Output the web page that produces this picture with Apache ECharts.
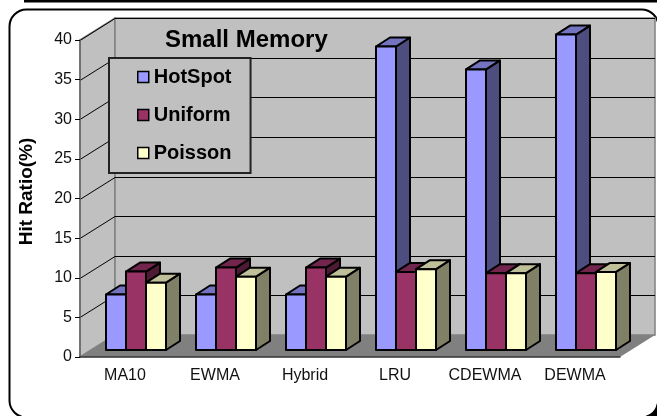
<!DOCTYPE html>
<html>
<head>
<meta charset="utf-8">
<style>
  html, body { margin: 0; padding: 0; background: #fff; }
  #chart { width: 657px; height: 416px; }
</style>
<script src="https://cdn.jsdelivr.net/npm/echarts@6/dist/echarts.min.js"></script>
</head>
<body>
<div id="chart"></div>
<script>
var categories = ['MA10', 'EWMA', 'Hybrid', 'LRU', 'CDEWMA', 'DEWMA']
var hotSpot = [7.0, 7.0, 7.0, 38.3, 35.4, 39.8]
var uniform = [9.9, 10.4, 10.4, 9.85, 9.7, 9.7]
var poisson = [8.5, 9.25, 9.25, 10.2, 9.7, 9.85]
var yTicks = [5, 10, 15, 20, 25, 30, 35, 40]

var FONT = '"Liberation Sans", Arial, sans-serif'
// depth of the floor, and of a bar standing in the middle of it
var WALL_DX = 35
var WALL_DY = 22
var GAP_DX = 11
var GAP_DY = 7
var BAR_W = 20
var BAR_DX = 14
var BAR_DY = 9

// one series per group, barIndex is the slot inside the group
function bar3d(barIndex, front, side, top) {
  return function(params, api) {
    var base = api.coord([api.value(0), 0])
    var peak = api.coord([api.value(0), api.value(1)])
    var x0 = base[0] + GAP_DX - 30 + BAR_W * barIndex
    var x1 = x0 + BAR_W
    var y0 = base[1] - GAP_DY
    var y1 = peak[1] - GAP_DY
    var line = { stroke: '#000', lineWidth: 2, lineJoin: 'round' }
    return {
      type: 'group',
      children: [{
        type: 'polygon',
        shape: { points: [[x1, y0], [x1 + BAR_DX, y0 - BAR_DY], [x1 + BAR_DX, y1 - BAR_DY], [x1, y1]] },
        style: Object.assign({ fill: side }, line)
      }, {
        type: 'polygon',
        shape: { points: [[x0, y1], [x1, y1], [x1 + BAR_DX, y1 - BAR_DY], [x0 + BAR_DX, y1 - BAR_DY]] },
        style: Object.assign({ fill: top }, line)
      }, {
        type: 'rect',
        shape: { x: x0, y: y1, width: BAR_W, height: y0 - y1 },
        style: Object.assign({ fill: front }, line)
      }]
    }
  }
}

function renderWalls(params, api) {
  var c = params.coordSys
  var l = c.x
  var r = c.x + c.width
  var t = c.y
  var b = c.y + c.height
  var edge = { stroke: '#808080', lineWidth: 1.5 }
  return {
    type: 'group',
    children: [{
      type: 'polygon',
      shape: { points: [[l, t], [l + WALL_DX, t - WALL_DY], [l + WALL_DX, b - WALL_DY], [l, b]] },
      style: Object.assign({ fill: '#c0c0c0' }, edge)
    }, {
      type: 'rect',
      shape: { x: l + WALL_DX, y: t - WALL_DY, width: c.width, height: c.height },
      style: Object.assign({ fill: '#c0c0c0' }, edge)
    }, {
      type: 'polygon',
      shape: { points: [[l, b], [r, b], [r + WALL_DX, b - WALL_DY], [l + WALL_DX, b - WALL_DY]] },
      style: { fill: '#808080' }
    }]
  }
}

function renderGridLine(params, api) {
  var p = api.coord([0, api.value(0)])
  var c = params.coordSys
  var line = { stroke: '#000', lineWidth: 1, fill: null }
  var y = Math.round(p[1]) + 0.5
  return {
    type: 'group',
    children: [{
      type: 'line',
      shape: { x1: c.x, y1: y, x2: c.x + WALL_DX, y2: y - WALL_DY },
      style: line
    }, {
      type: 'line',
      shape: { x1: c.x + WALL_DX, y1: y - WALL_DY, x2: c.x + WALL_DX + c.width, y2: y - WALL_DY },
      style: line
    }]
  }
}

function barSeries(name, values, barIndex, front, side, top) {
  return {
    name: name,
    type: 'custom',
    z: 4,
    itemStyle: { color: front },
    encode: { x: 0, y: 1 },
    renderItem: bar3d(barIndex, front, side, top),
    data: values.map(function(v, i) { return [i, v] })
  }
}

var chart = echarts.init(document.getElementById('chart'), null, { renderer: 'canvas' })
chart.setOption({
  animation: false,
  backgroundColor: '#fff',
  title: {
    text: 'Small Memory',
    left: 165,
    top: 28,
    padding: 0,
    textStyle: { fontFamily: FONT, fontSize: 24, fontWeight: 'bold', color: '#000' }
  },
  legend: {
    data: ['HotSpot', 'Uniform', 'Poisson'],
    orient: 'vertical',
    left: 109,
    top: 58,
    padding: [9, 19, 10, 28],
    itemWidth: 11,
    itemHeight: 11,
    itemGap: 18,
    icon: 'rect',
    backgroundColor: '#c0c0c0',
    borderColor: '#222',
    borderWidth: 2,
    borderRadius: 0,
    itemStyle: { borderColor: '#000', borderWidth: 1.5 },
    textStyle: { fontFamily: FONT, fontSize: 20, fontWeight: 'bold', color: '#000' },
    z: 6
  },
  grid: { left: 80, top: 40, width: 540, height: 317 },
  xAxis: {
    type: 'category',
    data: categories,
    z: 3,
    axisLine: { lineStyle: { color: '#333', width: 1.5 } },
    axisTick: { length: 5, lineStyle: { color: '#000' } },
    axisLabel: { fontFamily: FONT, fontSize: 16, color: '#111', margin: 11, interval: 0 },
    splitLine: { show: false }
  },
  yAxis: {
    type: 'value',
    min: 0,
    max: 40,
    interval: 5,
    z: 3,
    name: 'Hit Ratio(%)',
    nameLocation: 'middle',
    nameGap: 44,
    nameRotate: 90,
    nameTextStyle: { fontFamily: FONT, fontSize: 19, fontWeight: 'bold', color: '#000', padding: [0, 0, 0, 14] },
    axisLine: { show: true, lineStyle: { color: '#666', width: 1.5 } },
    axisTick: { show: true, length: 5, lineStyle: { color: '#000' } },
    axisLabel: { fontFamily: FONT, fontSize: 16, color: '#111', margin: 8 },
    splitLine: { show: false }
  },
  series: [
    {
      name: 'walls',
      type: 'custom',
      z: 1,
      renderItem: renderWalls,
      silent: true,
      data: [[0, 0]],
      encode: { x: 0, y: 1 }
    },
    {
      name: 'gridLines',
      type: 'custom',
      z: 2,
      renderItem: renderGridLine,
      silent: true,
      data: yTicks.map(function(v) { return [v] })
    },
    barSeries('HotSpot', hotSpot, 0, '#9999ff', '#4d4d80', '#7373bf'),
    barSeries('Uniform', uniform, 1, '#993366', '#4d1a33', '#73264d'),
    barSeries('Poisson', poisson, 2, '#ffffcc', '#808066', '#bfbf99')
  ],
  graphic: [
    { type: 'rect', silent: true, z: 0, shape: { x: 24, y: 0, width: 640, height: 2.5 }, style: { fill: '#000' } },
    {
      type: 'rect',
      silent: true,
      z: 0,
      shape: { x: 9.5, y: 9.5, width: 649, height: 408, r: 17 },
      style: { fill: '#fff', stroke: '#000', lineWidth: 2 }
    },
    {
      type: 'polygon',
      silent: true,
      z: 0,
      shape: { points: [[657, 403], [655, 410], [651, 414], [646, 416], [657, 416]] },
      style: { fill: '#000' }
    }
  ]
})
</script>
</body>
</html>
